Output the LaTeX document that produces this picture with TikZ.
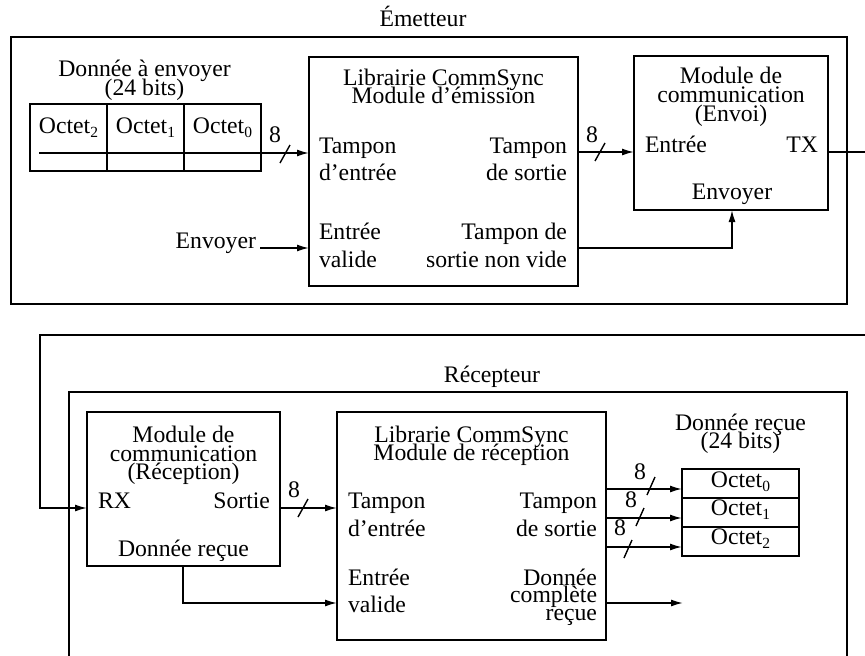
\documentclass[tikz,border=0pt]{standalone}
\usepackage{fontspec}
\setmainfont{Liberation Serif}
\usetikzlibrary{arrows.meta}
% byte index set low and small, as in the labels of the byte cells
\newcommand{\bytesub}[1]{\raisebox{-4.5pt}{\fontsize{15.5}{15.5}\selectfont #1}}
\begin{document}
\begin{tikzpicture}[x=1pt,y=-1pt,
  lbl/.style={font=\fontsize{23.7}{28.4}\selectfont, inner sep=0pt, outer sep=0pt, anchor=base},
  lw/.style={lbl, anchor=base west},
  le/.style={lbl, anchor=base east},
  box/.style={draw, line width=1.7pt, inner sep=0pt, outer sep=0pt},
  frame/.style={line width=1.7pt},
  wire/.style={line width=1.6pt},
  arr/.style={wire, -{Latex[length=12pt,width=7pt]}},
  busmark/.style={line width=1.4pt}]
\useasboundingbox (0,0) rectangle (865,656);
\clip (0,0) rectangle (865,656);

% ---------------- Emitter ----------------
\draw[frame] (11,37) rectangle (847,304);
\node[lbl] (emtitle) at (423,26) {Émetteur};

% data to send, three bytes
\node[lbl] (sendA) at (144.5,76) {Donnée à envoyer};
\node[lbl] (sendB) at (144.5,95) {(24 bits)};
\node[box, minimum width=77, minimum height=67, anchor=north west] (s2) at (30,104) {};
\node[box, minimum width=77, minimum height=67, anchor=north west] (s1) at (107,104) {};
\node[box, minimum width=77, minimum height=67, anchor=north west] (s0) at (184,104) {};
\node[lbl] (s2t) at (68.5,133) {Octet\bytesub{2}};
\node[lbl] (s1t) at (145.5,133) {Octet\bytesub{1}};
\node[lbl] (s0t) at (222.5,133) {Octet\bytesub{0}};
\coordinate (sendstart) at (39,153);

% emission library block
\node[box, minimum width=269, minimum height=229] (libE) at (443.5,171.5) {};
\node[lbl] (libEa) at (443.5,85) {Librairie CommSync};
\node[lbl] (libEb) at (443.5,103) {Module d’émission};
\node[lw] (libEi1) at (319,153) {Tampon};
\node[lw] (libEi2) at (319,180) {d’entrée};
\node[lw] (libEv1) at (319,239) {Entrée};
\node[lw] (libEv2) at (319,267) {valide};
\node[le] (libEo1) at (567,153) {Tampon};
\node[le] (libEo2) at (567,180) {de sortie};
\node[le] (libEn1) at (567,239) {Tampon de};
\node[le] (libEn2) at (567,267) {sortie non vide};

% send strobe input
\node[le] (envoyer) at (256,248) {Envoyer};
\coordinate (envstart) at (260,248);

% communication module (send)
\node[box, minimum width=194, minimum height=154] (modE) at (731,133) {};
\node[lbl] (modEa) at (731,83) {Module de};
\node[lbl] (modEb) at (731,102) {communication};
\node[lbl] (modEc) at (731,121) {(Envoi)};
\node[lw] (modEin) at (645,152) {Entrée};
\node[le] (modEtx) at (818,152) {TX};
\node[lbl] (modEsend) at (732,199) {Envoyer};
\coordinate (txend) at (868,152);

% emitter wiring
\draw[arr] (sendstart) -- (libE.west |- sendstart);
\draw[busmark] (285,154) ++(-5,9) -- ++(10,-18);
\node[lbl] (n8a) at (275,142) {8};

\draw[arr] (envstart) -- (libE.west |- envstart);

\draw[arr] (libE.east |- 0,152) -- (modE.west |- 0,152);
\draw[busmark] (600,152) ++(-5,9) -- ++(10,-18);
\node[lbl] (n8b) at (592,142) {8};

\draw[arr] (libE.east |- 0,248) -| (modE.south -| 732,0);
\draw[wire] (modE.east |- txend) -- (txend);

% ---------------- Receiver ----------------
\coordinate (rxstart) at (868,335);
\coordinate (rxbend) at (40,335);
\draw[frame] (69,662) -- (69,392) -- (847,392) -- (847,662);
\node[lbl] (rctitle) at (492,382) {Récepteur};

% communication module (receive)
\node[box, minimum width=193, minimum height=154] (modR) at (183.5,489) {};
\node[lbl] (modRa) at (183.5,442) {Module de};
\node[lbl] (modRb) at (183.5,461) {communication};
\node[lbl] (modRc) at (183.5,479) {(Réception)};
\node[lw] (modRrx) at (98,508) {RX};
\node[le] (modRout) at (270,508) {Sortie};
\node[lbl] (modRdr) at (183.5,556) {Donnée reçue};

% reception library block
\node[box, minimum width=269, minimum height=228] (libR) at (471.5,526) {};
\node[lbl] (libRa) at (471.5,442) {Librarie CommSync};
\node[lbl] (libRb) at (471.5,460) {Module de réception};
\node[lw] (libRi1) at (348,508) {Tampon};
\node[lw] (libRi2) at (348,536) {d’entrée};
\node[lw] (libRv1) at (348,585) {Entrée};
\node[lw] (libRv2) at (348,612) {valide};
\node[le] (libRo1) at (597,508) {Tampon};
\node[le] (libRo2) at (597,536) {de sortie};
\node[le] (libRc1) at (597,585) {Donnée};
\node[le] (libRc2) at (597,602) {complète};
\node[le] (libRc3) at (597,620) {reçue};

% received data, three bytes
\node[lbl] (recA) at (740.5,430) {Donnée reçue};
\node[lbl] (recB) at (740.5,448) {(24 bits)};
\node[box, minimum width=117, minimum height=29, anchor=north west] (r0) at (682,469) {};
\node[box, minimum width=117, minimum height=29, anchor=north west] (r1) at (682,498) {};
\node[box, minimum width=117, minimum height=29, anchor=north west] (r2) at (682,527) {};
\node[lbl] (r0t) at (740.5,487) {Octet\bytesub{0}};
\node[lbl] (r1t) at (740.5,515) {Octet\bytesub{1}};
\node[lbl] (r2t) at (740.5,544) {Octet\bytesub{2}};
\coordinate (doneend) at (683,603);

% receiver wiring
\draw[arr] (rxstart) -- (rxbend) |- (modR.west |- 0,508);

\draw[arr] (modR.east |- 0,508) -- (libR.west |- 0,508);
\draw[busmark] (303,508) ++(-5,9) -- ++(10,-18);
\node[lbl] (n8c) at (294,497) {8};

\draw[arr] (modR.south -| 183,0) |- (libR.west |- 0,603);

\draw[arr] (libR.east |- 0,489) -- (r0.west |- 0,489);
\draw[arr] (libR.east |- 0,518) -- (r1.west |- 0,518);
\draw[arr] (libR.east |- 0,547) -- (r2.west |- 0,547);
\draw[busmark] (651,486) ++(-4,9) -- ++(8,-18);
\draw[busmark] (640,517) ++(-4,9) -- ++(8,-18);
\draw[busmark] (628,549) ++(-4,9) -- ++(8,-18);
\node[lbl] (n8d) at (640,479) {8};
\node[lbl] (n8e) at (631,507) {8};
\node[lbl] (n8f) at (620,535) {8};

\draw[arr] (libR.east |- doneend) -- (doneend);
\end{tikzpicture}
\end{document}
